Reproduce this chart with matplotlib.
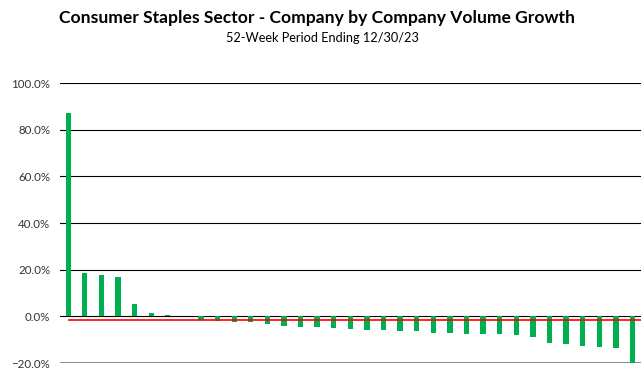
import numpy as np
from matplotlib import pyplot as plt
from matplotlib.ticker import PercentFormatter

TITLE = "Consumer Staples Sector - Company by Company Volume Growth"
SUBTITLE = "52-Week Period Ending 12/30/23"

# volume growth per company (%), sorted high to low
growth = [87.0, 18.4, 17.6, 16.7, 5.4, 1.3, 0.6, 0.1,
          -1.7, -2.0, -2.6, -2.6, -3.3, -4.3, -4.7, -4.7,
          -4.9, -5.3, -5.7, -5.9, -6.3, -6.4, -6.9, -7.0,
          -7.4, -7.6, -7.6, -8.0, -9.0, -11.2, -11.7, -12.7,
          -13.2, -13.6, -20.5]
average = -1.7
yticks = [-20, 0, 20, 40, 60, 80, 100]

GREEN = "#00B050"
FONT = "Lato"

fig = plt.figure(figsize=(6.44, 3.69), dpi=100)
ax = fig.add_axes([0.093, 0.016, 0.902, 0.759])

x = np.arange(len(growth))
ax.bar(x, growth, width=0.32, color=GREEN, zorder=3)
ax.hlines(average, 0, len(growth) - 0.3, color="red", lw=1.2, zorder=4)

ax.set_xlim(-0.5, len(growth) - 0.5)
ax.set_ylim(-20, 100)
ax.set_yticks(yticks)
ax.yaxis.set_major_formatter(PercentFormatter(decimals=1))
ax.set_xticks([])
for t in yticks:
    if t == -20:
        ax.axhline(t, color="#7f7f7f", lw=2, zorder=2)
    else:
        ax.axhline(t, color="black", lw=0.8, zorder=2)
for s in ax.spines.values():
    s.set_visible(False)
ax.tick_params(axis="y", length=0, pad=7, labelsize=8.3)
for lab in ax.get_yticklabels():
    lab.set_fontfamily(FONT)
    lab.set_color("#333333")

fig.text(0.492, 0.952, TITLE, ha="center", va="center", fontsize=12.6,
         fontweight="bold", family=FONT)
fig.text(0.5, 0.898, SUBTITLE, ha="center", va="center", fontsize=9.2,
         family=FONT)

fig.savefig("out.png")
